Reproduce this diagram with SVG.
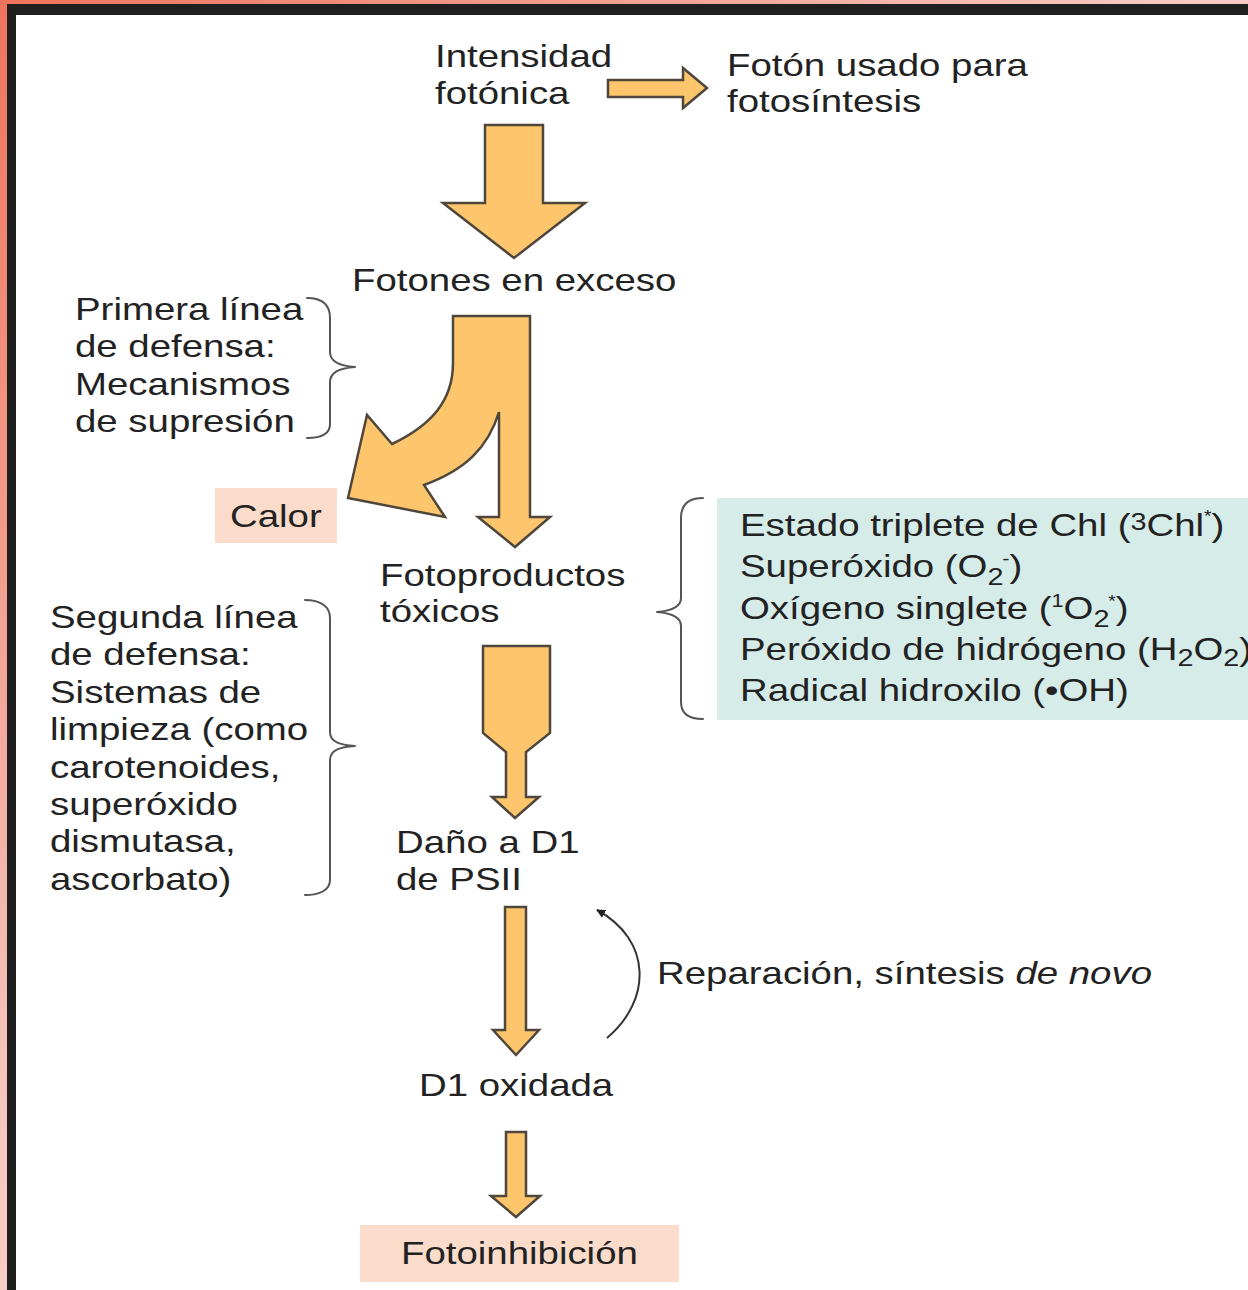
<svg xmlns="http://www.w3.org/2000/svg" width="1248" height="1290" viewBox="0 0 1248 1290">
<defs>
<linearGradient id="bg" x1="0" y1="0" x2="1248" y2="1290" gradientUnits="userSpaceOnUse">
<stop offset="0" stop-color="#ef735c"/>
<stop offset="0.45" stop-color="#f6c8c0"/>
<stop offset="1" stop-color="#fff6f4"/>
</linearGradient>
<marker id="ah" viewBox="0 0 10 10" refX="9" refY="5" markerWidth="9" markerHeight="9" orient="auto" markerUnits="userSpaceOnUse">
<path d="M0,0 L10,5 L0,10 Z" fill="#222"/>
</marker>
<style>
.t{font-family:"Liberation Sans",Arial,Helvetica,sans-serif;font-size:32px;fill:#222}
.arr{fill:#FDC66C;stroke:#4f463c;stroke-width:2.5;stroke-linejoin:miter}
.brace{fill:none;stroke:#555;stroke-width:2;stroke-linecap:round;stroke-linejoin:round}
.box1{fill:#FBDCCB}
.box2{fill:#D6ECE9}
</style>
</defs>
<rect x="0" y="0" width="1248" height="1290" fill="url(#bg)"/>
<rect x="7" y="4" width="1241" height="1286" fill="#1f1f1f"/>
<rect x="16" y="15" width="1232" height="1275" fill="#ffffff"/>

<g id="connectors">
<path class="arr" d="M608,80 L683,80 L683,68 L707,88 L683,108 L683,97 L608,97 Z"/>
<path class="arr" d="M485,125 L543,125 L543,203 L585,203 L514,258 L443,203 L485,203 Z"/>
<path class="arr" d="M453,316 L530,316 L530,517 L550,517 L515,547 L478,517 L499,517 L499,412 C488,448 465,470 424,485 L445,517 L348,498 L367,415 L392,444 C432,425 453,400 453,363 Z"/>
<path class="arr" d="M483,646 L550,646 L550,733 L526,752 L526,797 L539,797 L515,818 L492,797 L506,797 L506,752 L483,733 Z"/>
<path class="arr" d="M505,907 L526,907 L526,1030 L539,1030 L516,1055 L493,1030 L505,1030 Z"/>
<path class="arr" d="M506,1132 L526,1132 L526,1196 L540,1196 L516,1217 L491,1196 L506,1196 Z"/>
<path d="M607,1038 C652,1000 652,940 597,910" fill="none" stroke="#333" stroke-width="2" marker-end="url(#ah)"/>
<path class="brace" d="M307,298 C322,298 330,304 330,318 L330,352 C330,362 340,366 355,367 C340,368 330,372 330,382 L330,424 C330,434 322,438 307,438"/>
<path class="brace" d="M305,600 C320,600 330,606 330,618 L330,732 C330,742 340,745 355,746 C340,747 330,750 330,760 L330,880 C330,890 320,895 305,895"/>
<path class="brace" d="M703,498 C688,498 681,505 681,518 L681,598 C681,607 670,611 657,612 C670,613 681,617 681,626 L681,702 C681,713 688,719 703,719"/>
</g>

<g id="n-intensidad"><text class="t" transform="translate(435,67) scale(1.2,1)"><tspan x="0" y="0">Intensidad</tspan><tspan x="0" y="37">fotónica</tspan></text></g>
<g id="n-foton"><text class="t" transform="translate(727,76) scale(1.2,1)"><tspan x="0" y="0">Fotón usado para</tspan><tspan x="0" y="36">fotosíntesis</tspan></text></g>
<g id="n-exceso"><text class="t" transform="translate(352,291) scale(1.2,1)">Fotones en exceso</text></g>
<g id="n-primera"><text class="t" transform="translate(75,320) scale(1.2,1)"><tspan x="0" y="0">Primera línea</tspan><tspan x="0" y="37.3">de defensa:</tspan><tspan x="0" y="74.6">Mecanismos</tspan><tspan x="0" y="112">de supresión</tspan></text></g>
<g id="n-calor"><rect class="box1" x="215" y="488" width="122" height="55"/><text class="t" transform="translate(230,527) scale(1.2,1)">Calor</text></g>
<g id="n-fotoproductos"><text class="t" transform="translate(380,586) scale(1.2,1)"><tspan x="0" y="0">Fotoproductos</tspan><tspan x="0" y="36">tóxicos</tspan></text></g>
<g id="n-lista"><rect class="box2" x="717" y="498" width="531" height="222"/>
<text class="t" transform="translate(740,536) scale(1.2,1)">Estado triplete de Chl (<tspan font-size="24" dy="-6">3</tspan><tspan dy="6">Chl</tspan><tspan font-size="16" dy="-14">*</tspan><tspan dy="14">)</tspan></text>
<text class="t" transform="translate(740,577) scale(1.2,1)">Superóxido (O<tspan font-size="24" dy="8">2</tspan><tspan font-size="18" dx="-1" dy="-20">-</tspan><tspan dy="12">)</tspan></text>
<text class="t" transform="translate(740,619) scale(1.2,1)">Oxígeno singlete (<tspan font-size="18" dy="-12">1</tspan><tspan dy="12">O</tspan><tspan font-size="24" dy="8">2</tspan><tspan font-size="16" dx="-1" dy="-20">*</tspan><tspan dy="12">)</tspan></text>
<text class="t" transform="translate(740,660) scale(1.2,1)">Peróxido de hidrógeno (H<tspan font-size="24" dy="6">2</tspan><tspan dy="-6">O</tspan><tspan font-size="24" dy="6">2</tspan><tspan dy="-6">)</tspan></text>
<text class="t" transform="translate(740,701) scale(1.2,1)">Radical hidroxilo (•OH)</text>
</g>
<g id="n-segunda"><text class="t" transform="translate(50,628) scale(1.2,1)"><tspan x="0" y="0">Segunda línea</tspan><tspan x="0" y="37.4">de defensa:</tspan><tspan x="0" y="74.8">Sistemas de</tspan><tspan x="0" y="112.2">limpieza (como</tspan><tspan x="0" y="149.6">carotenoides,</tspan><tspan x="0" y="187">superóxido</tspan><tspan x="0" y="224.4">dismutasa,</tspan><tspan x="0" y="261.8">ascorbato)</tspan></text></g>
<g id="n-dano"><text class="t" transform="translate(396,853) scale(1.2,1)"><tspan x="0" y="0">Daño a D1</tspan><tspan x="0" y="37">de PSII</tspan></text></g>
<g id="n-reparacion"><text class="t" transform="translate(657,984) scale(1.2,1)">Reparación, síntesis <tspan font-style="italic">de novo</tspan></text></g>
<g id="n-oxidada"><text class="t" transform="translate(419,1096) scale(1.2,1)">D1 oxidada</text></g>
<g id="n-fotoinhibicion"><rect class="box1" x="360" y="1225" width="319" height="57"/><text class="t" transform="translate(401,1264) scale(1.2,1)">Fotoinhibición</text></g>
</svg>
